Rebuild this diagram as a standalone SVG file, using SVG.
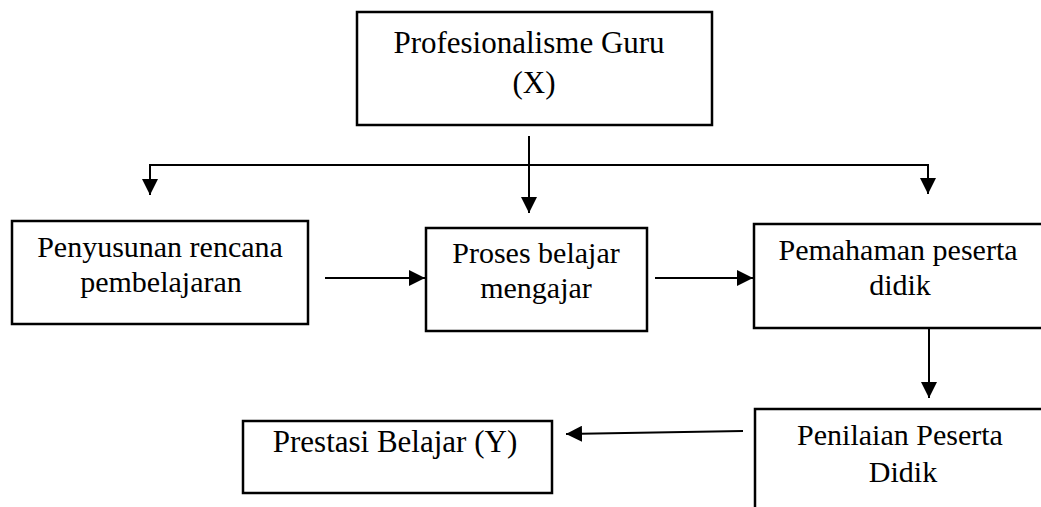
<svg xmlns="http://www.w3.org/2000/svg" width="1041" height="507" viewBox="0 0 1041 507">
<style>
.box{fill:#fff;stroke:#000;stroke-width:2.5}
.t{font-family:"Liberation Serif","Times New Roman",serif;font-size:30px;fill:#000;text-anchor:middle}
.big{font-size:31px}
.c{fill:none;stroke:#000;stroke-width:2}
</style>
<defs>
<marker id="ah" viewBox="0 0 16 16" refX="16" refY="8" markerWidth="16" markerHeight="16" markerUnits="userSpaceOnUse" orient="auto">
<path d="M0,0 L16,8 L0,16 z" fill="#000"/>
</marker>
</defs>
<rect width="1041" height="507" fill="#fff"/>
<g id="node-profesionalisme">
<rect class="box" x="357" y="12" width="355" height="113"/>
<text class="t big" x="529" y="53">Profesionalisme Guru</text>
<text class="t big" x="534" y="93">(X)</text>
</g>
<g id="node-penyusunan">
<rect class="box" x="12" y="221" width="296" height="103"/>
<text class="t" x="160" y="257">Penyusunan rencana</text>
<text class="t" x="161" y="292">pembelajaran</text>
</g>
<g id="node-proses">
<rect class="box" x="426" y="228" width="221" height="103"/>
<text class="t" x="536" y="263">Proses belajar</text>
<text class="t" x="536" y="298">mengajar</text>
</g>
<g id="node-pemahaman">
<rect class="box" x="754" y="224" width="320" height="104"/>
<text class="t" x="898" y="260">Pemahaman peserta</text>
<text class="t" x="900" y="295">didik</text>
</g>
<g id="node-penilaian">
<rect class="box" x="755" y="409" width="320" height="130"/>
<text class="t" x="900" y="445">Penilaian Peserta</text>
<text class="t" x="903" y="482">Didik</text>
</g>
<g id="node-prestasi">
<rect class="box" x="243" y="421" width="309" height="72"/>
<text class="t big" x="395" y="452">Prestasi Belajar (Y)</text>
</g>
<g id="connectors">
<line class="c" x1="529" y1="136" x2="529" y2="213" marker-end="url(#ah)"/>
<line class="c" x1="149" y1="165" x2="929" y2="165"/>
<line class="c" x1="150" y1="164" x2="150" y2="195" marker-end="url(#ah)"/>
<line class="c" x1="928" y1="164" x2="928" y2="194" marker-end="url(#ah)"/>
<line class="c" x1="325" y1="278" x2="425" y2="278" marker-end="url(#ah)"/>
<line class="c" x1="655" y1="278" x2="753" y2="278" marker-end="url(#ah)"/>
<line class="c" x1="929" y1="329" x2="929" y2="398" marker-end="url(#ah)"/>
<line class="c" x1="743" y1="431" x2="566" y2="434" marker-end="url(#ah)"/>
</g>
</svg>
